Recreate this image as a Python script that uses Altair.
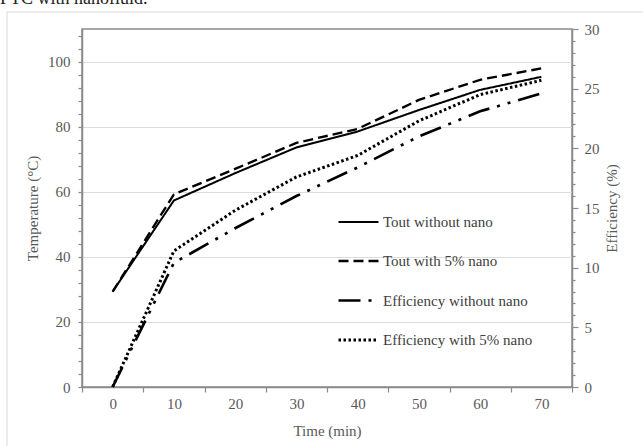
import altair as alt
import pandas as pd

# ---- data ----
time_min = [0, 10, 20, 30, 40, 50, 60, 70]
tout_without = [29.3, 57.3, 65.7, 73.6, 78.5, 85.1, 91.3, 95.3]
tout_with = [29.3, 59.2, 67.0, 75.0, 79.3, 88.2, 94.4, 97.9]
eff_without = [0.0, 10.4, 13.3, 16.0, 18.4, 21.0, 23.1, 24.6]
eff_with = [0.0, 11.4, 14.8, 17.6, 19.4, 22.3, 24.5, 25.7]

series_names = ["Tout without nano", "Tout with 5% nano",
                "Efficiency without nano", "Efficiency with 5% nano"]
temp_ticks = list(range(0, 110, 4))
eff_ticks = list(range(0, 31, 1))
x_ticks = list(range(-5, 80, 5))

# ---- styling ----
SERIF = "Liberation Serif"
AX = "#8a8a8a"
TXT = "#595959"
FS = 15
dashes = [[1, 0], [10, 5], [22, 8, 3, 8, 3, 8], [2.5, 2.5]]
widths = [2, 3, 3, 2.5]

temp_df = pd.DataFrame({
    "time": time_min * 2,
    "value": tout_without + tout_with,
    "series": [series_names[0]] * len(time_min) + [series_names[1]] * len(time_min),
})
eff_df = pd.DataFrame({
    "time": time_min * 2,
    "value": eff_without + eff_with,
    "series": [series_names[2]] * len(time_min) + [series_names[3]] * len(time_min),
})

legend = alt.Legend(
    orient="none", legendX=255, legendY=172, title=None,
    symbolType="stroke", symbolSize=1600, symbolStrokeColor="black",
    labelFont=SERIF, labelFontSize=FS, labelColor="#404040",
    labelOffset=3, rowPadding=9.5, labelLimit=300,
)

x_enc = alt.X(
    "time:Q",
    scale=alt.Scale(domain=[-5, 75], nice=False, zero=False),
    axis=alt.Axis(
        values=x_ticks,
        labelExpr="datum.value % 10 == 0 ? datum.label : ''",
        tickOpacity=alt.condition("datum.value % 10 == 0", alt.value(0), alt.value(1)),
        tickSize=5, labelPadding=4, labelFlush=False, labelOverlap=False,
        grid=False, title="Time (min)", titlePadding=12,
    ),
)

stroke_dash = alt.StrokeDash(
    "series:N", scale=alt.Scale(domain=series_names, range=dashes), legend=legend
)
stroke_width = alt.StrokeWidth(
    "series:N", scale=alt.Scale(domain=series_names, range=widths), legend=legend
)

temp_lines = alt.Chart(temp_df).mark_line(color="black").encode(
    x=x_enc,
    y=alt.Y(
        "value:Q", scale=alt.Scale(domain=[0, 110], nice=False, zero=True),
        axis=alt.Axis(
            orient="left", values=temp_ticks,
            labelExpr="datum.value % 20 == 0 ? datum.label : ''",
            tickSize=4, labelPadding=8, labelOverlap=False,
            grid=True, gridColor="#dcdcdc", gridWidth=1,
            gridOpacity=alt.condition("datum.value % 20 == 0 && datum.value > 0",
                                      alt.value(1), alt.value(0)),
            title="Temperature (°C)", titlePadding=7,
        ),
    ),
    strokeDash=stroke_dash,
    strokeWidth=stroke_width,
)

eff_lines = alt.Chart(eff_df).mark_line(color="black").encode(
    x=x_enc,
    y=alt.Y(
        "value:Q", scale=alt.Scale(domain=[0, 30], nice=False, zero=True),
        axis=alt.Axis(
            orient="right", values=eff_ticks,
            labelExpr="datum.value % 5 == 0 ? datum.label : ''",
            tickSize=alt.condition("datum.value % 5 == 0", alt.value(6), alt.value(3)),
            labelPadding=6, grid=False, labelOverlap=False,
            title="Efficiency (%)", titleAngle=-90, titlePadding=20,
        ),
    ),
    strokeDash=stroke_dash,
    strokeWidth=stroke_width,
)

frame = alt.Chart(pd.DataFrame({"k": [0]})).mark_rect(
    filled=False, stroke="#d9d9d9", strokeWidth=1
).encode(
    x=alt.value(-75), x2=alt.value(700), y=alt.value(-17), y2=alt.value(600)
)

caption = alt.Chart(pd.DataFrame({"t": ["PTC with nanofluid."]})).mark_text(
    font=SERIF, fontSize=18, color="#222222", align="left", baseline="alphabetic"
).encode(x=alt.value(-82), y=alt.value(-25), text="t:N")

chart = alt.layer(
    frame, caption, temp_lines, eff_lines
).resolve_scale(
    y="independent"
).properties(
    width=490, height=358,
    padding={"left": 82, "top": 29, "right": 71, "bottom": 59},
    autosize=alt.AutoSizeParams(type="none"),
    background="white",
).configure_view(
    stroke=AX, strokeWidth=1.5
).configure_axis(
    domainColor=AX, domainWidth=1.5, tickColor=AX, tickWidth=1.2,
    labelFont=SERIF, labelFontSize=FS, labelColor=TXT,
    titleFont=SERIF, titleFontSize=FS, titleFontWeight="normal", titleColor=TXT,
)

chart.save("out.html", embed_options={"renderer": "svg", "actions": False})
